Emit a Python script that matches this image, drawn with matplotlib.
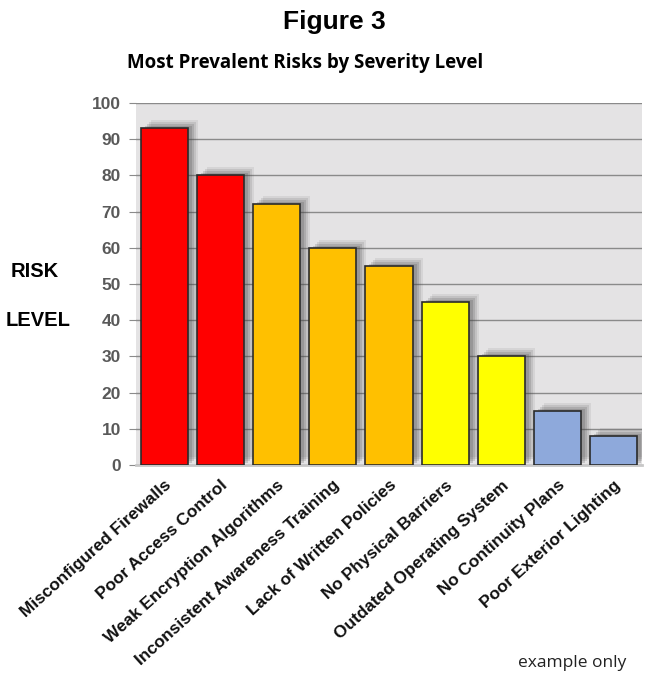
import numpy as np
import matplotlib.pyplot as plt
from matplotlib.transforms import ScaledTranslation

# risk data
risks = [
    "Misconfigured Firewalls",
    "Poor Access Control",
    "Weak Encryption Algorithms",
    "Inconsistent Awareness Training",
    "Lack of Written Policies",
    "No Physical Barriers",
    "Outdated Operating System",
    "No Continuity Plans",
    "Poor Exterior Lighting",
]
levels = [93, 80, 72, 60, 55, 45, 30, 15, 8]
severity = ["high", "high", "elevated", "elevated", "elevated",
            "moderate", "moderate", "low", "low"]

palette = {"high": "#FF0000", "elevated": "#FFC000",
           "moderate": "#FFFF00", "low": "#8EA9DB"}
colors = [palette[s] for s in severity]

fig = plt.figure(figsize=(6.45, 6.73), dpi=100)
fig.patch.set_facecolor("white")
ax = fig.add_axes([0.211, 0.309, 0.784, 0.538])
ax.set_facecolor("#E4E3E4")

x = np.arange(len(risks))
width = 0.84

# soft drop shadow, built from a few stacked translucent offsets
for dx, dy, a in [(10, 8, 0.09), (8, 6, 0.13), (6, 4, 0.17), (4, 2, 0.2)]:
    off = ScaledTranslation(dx / 100, dy / 100, fig.dpi_scale_trans)
    ax.bar(x, levels, width=width, color="#444444", alpha=a,
           linewidth=0, transform=ax.transData + off, zorder=2)

ax.bar(x, levels, width=width, color=colors, edgecolor="#2A2A2A",
       linewidth=1.2, zorder=3)

ax.set_xlim(-0.5, len(risks) - 0.5)
ax.set_ylim(0, 100)
ax.set_yticks(range(0, 101, 10))
ax.yaxis.grid(True, color="#8A8A8A", linewidth=1.0)
ax.set_axisbelow(True)
for side in ["top", "right", "left"]:
    ax.spines[side].set_visible(False)
ax.spines["bottom"].set_color("#C8C8C8")
ax.spines["bottom"].set_linewidth(2)

ax.tick_params(axis="y", length=5, color="#8A8A8A", pad=6,
               labelsize=12.5, labelcolor="#595959")
for lab in ax.get_yticklabels():
    lab.set_fontweight("bold")
    lab.set_family("Liberation Sans")

ax.set_xticks(x)
ax.set_xticklabels(risks, rotation=42, ha="right", rotation_mode="anchor",
                   family="Liberation Sans", fontsize=12.4, fontweight="bold",
                   color="#111111")
ax.tick_params(axis="x", length=0, pad=9)

fig.text(0.518, 0.967, "Figure 3", ha="center", va="center",
         family="Liberation Sans", fontsize=19, fontweight="bold")
fig.text(0.473, 0.906, "Most Prevalent Risks by Severity Level",
         ha="center", va="center", family="Open Sans", fontsize=13.5,
         fontweight="bold")
fig.text(0.054, 0.596, "RISK", ha="center", va="center",
         family="Liberation Sans", fontsize=14.5, fontweight="bold")
fig.text(0.059, 0.524, "LEVEL", ha="center", va="center",
         family="Liberation Sans", fontsize=14.5, fontweight="bold")
fig.text(0.887, 0.015, "example only", ha="center", va="center",
         family="Open Sans", fontsize=12.5, color="#222222")

fig.savefig("out.png", dpi=100)
